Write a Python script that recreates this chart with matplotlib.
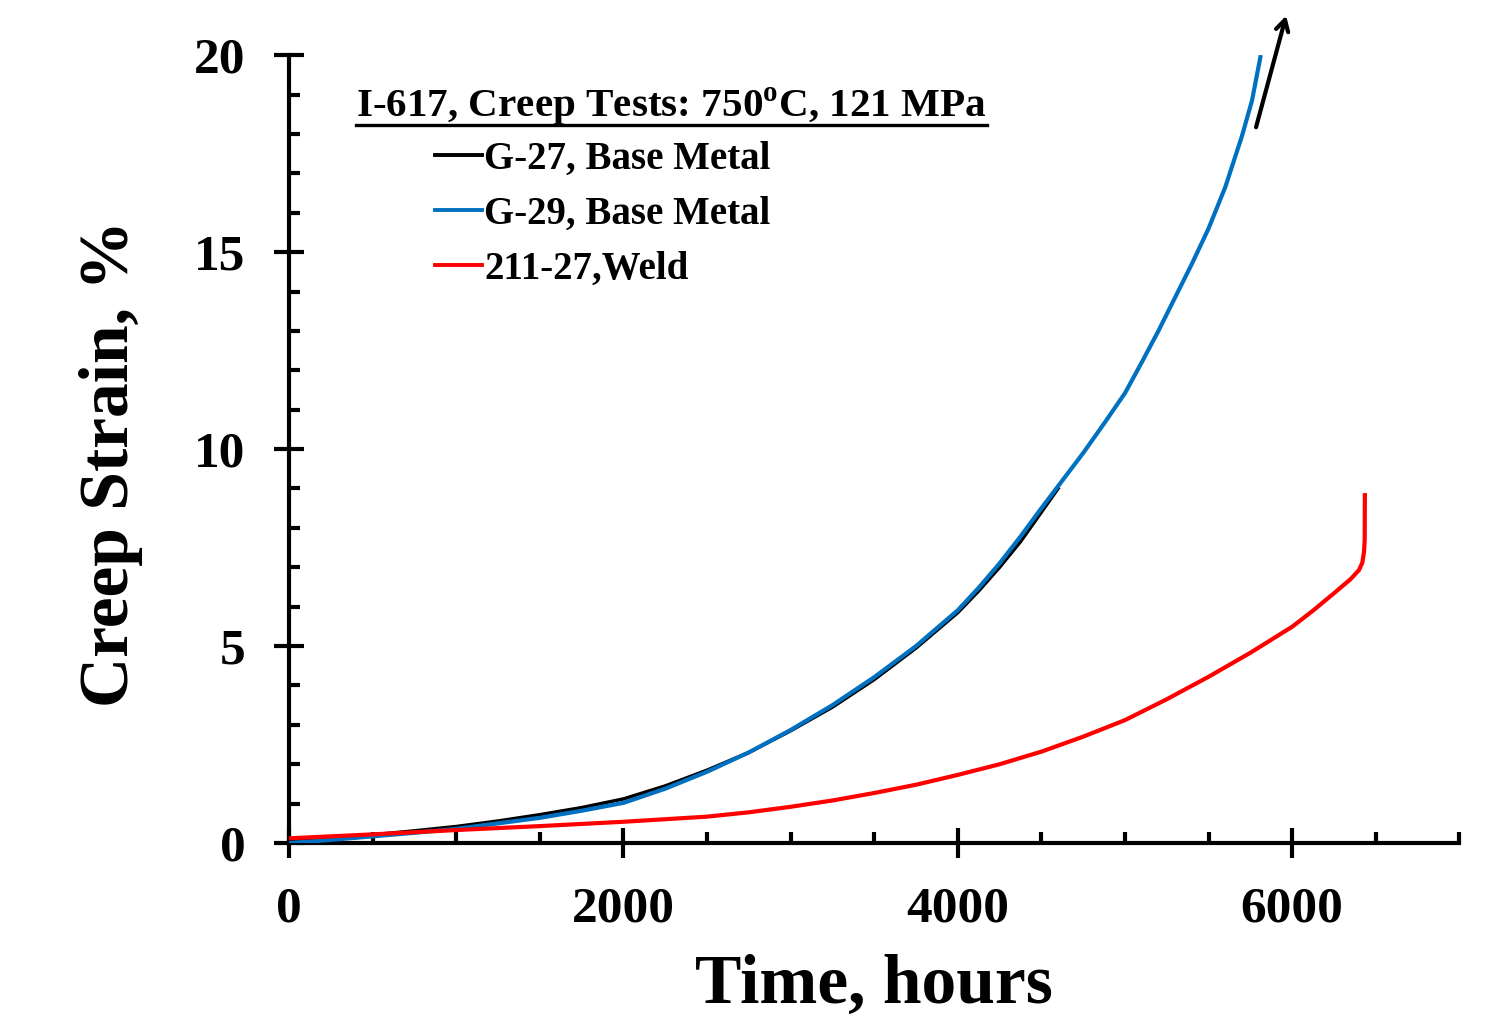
import matplotlib
matplotlib.use("Agg")
import matplotlib.pyplot as plt
from matplotlib.ticker import MultipleLocator
from matplotlib.lines import Line2D

plt.rcParams['font.family'] = ['Liberation Serif', 'DejaVu Serif']
plt.rcParams['font.weight'] = 'bold'
plt.rcParams['mathtext.fontset'] = 'custom'
plt.rcParams['mathtext.rm'] = 'Liberation Serif:bold'
plt.rcParams['mathtext.bf'] = 'Liberation Serif:bold'

# G-27, base metal
g27_hours = [0, 250, 500, 750, 1000, 1250, 1500, 1750, 2000, 2250, 2500, 2750,
             3000, 3250, 3500, 3750, 4000, 4125, 4250, 4375, 4500, 4600]
g27_strain = [0.05, 0.13, 0.21, 0.31, 0.42, 0.56, 0.72, 0.9, 1.12, 1.45, 1.85, 2.3,
              2.85, 3.45, 4.15, 4.95, 5.85, 6.4, 7.0, 7.65, 8.4, 9.0]

# G-29, base metal
g29_hours = [0, 250, 500, 750, 1000, 1250, 1500, 1750, 2000, 2250, 2500, 2750,
             3000, 3250, 3500, 3750, 4000, 4125, 4250, 4375, 4500, 4625, 4750,
             4875, 5000, 5100, 5200, 5300, 5400, 5500, 5600, 5700, 5760, 5810]
g29_strain = [0.0, 0.08, 0.17, 0.26, 0.36, 0.5, 0.64, 0.82, 1.02, 1.38, 1.81, 2.3,
              2.87, 3.5, 4.21, 5.0, 5.91, 6.48, 7.1, 7.78, 8.5, 9.2, 9.9,
              10.65, 11.42, 12.2, 13.0, 13.85, 14.7, 15.6, 16.65, 17.95, 18.85, 19.95]

# 211-27, weld
weld_hours = [0, 500, 1000, 1500, 2000, 2500, 2750, 3000, 3250, 3500, 3750, 4000,
              4250, 4500, 4750, 5000, 5250, 5500, 5750, 6000, 6125, 6250, 6350,
              6400, 6420, 6430, 6434, 6435]
weld_strain = [0.12, 0.22, 0.33, 0.43, 0.54, 0.67, 0.78, 0.92, 1.08, 1.27, 1.48, 1.73,
               2.0, 2.32, 2.7, 3.12, 3.65, 4.22, 4.83, 5.49, 5.9, 6.34, 6.7,
               6.93, 7.12, 7.4, 7.7, 8.83]

series_labels = ['G-27, Base Metal', 'G-29, Base Metal', '211-27,Weld']
series_colors = ['#000000', '#0070C0', '#FF0000']
chart_title = 'I-617, Creep Tests: 750$^{\\mathrm{o}}$C, 121 MPa'

# arrow pointing past the end of G-29 (off the top)
arrow_tail = (5784, 18.17)
arrow_head = (5964, 21.0)

fig = plt.figure(figsize=(15.06, 10.21), dpi=100)
ax = fig.add_axes([0.192, 0.1743, 0.777, 0.7717])

ax.plot(g27_hours, g27_strain, color=series_colors[0], lw=2.5, zorder=3)
ax.plot(g29_hours, g29_strain, color=series_colors[1], lw=3.0, zorder=4)
ax.plot(weld_hours, weld_strain, color=series_colors[2], lw=3.0, zorder=5)

ax.annotate('', xy=arrow_head, xytext=arrow_tail, annotation_clip=False,
            arrowprops=dict(arrowstyle='->,head_length=0.8,head_width=0.45',
                            lw=3, color='black', shrinkA=0, shrinkB=0))

ax.set_xlim(0, 7000)
ax.set_ylim(0, 20)
ax.xaxis.set_major_locator(MultipleLocator(2000))
ax.xaxis.set_minor_locator(MultipleLocator(500))
ax.yaxis.set_major_locator(MultipleLocator(5))
ax.yaxis.set_minor_locator(MultipleLocator(1))

for side in ['top', 'right']:
    ax.spines[side].set_visible(False)
for side in ['left', 'bottom']:
    ax.spines[side].set_linewidth(3)

ax.tick_params(which='major', direction='inout', length=21, width=3,
               labelsize=37)
ax.tick_params(which='minor', direction='in', length=8, width=3)
ax.tick_params(axis='y', which='major', pad=21)
ax.tick_params(axis='x', which='major', pad=21)

ax.set_xlabel('Time, hours', fontsize=50, fontweight='bold', labelpad=15)
ax.set_ylabel('Creep Strain, %', fontsize=50, fontweight='bold')
ax.yaxis.set_label_coords(-0.125, 0.482)

title = ax.text(0.057, 0.921, chart_title, transform=ax.transAxes,
                fontsize=29.6, fontweight='bold', va='baseline', ha='left')
fig.canvas.draw()
bb = title.get_window_extent().transformed(ax.transAxes.inverted())
ax.plot([bb.x0, bb.x1], [0.9115, 0.9115], transform=ax.transAxes,
        color='black', lw=2.4, clip_on=False)

handles = [Line2D([], [], color=c, lw=2.8) for c in series_colors]
ax.legend(handles, series_labels, loc='upper left', bbox_to_anchor=(0.125, 0.891),
          frameon=False, fontsize=28, handlelength=1.2, handletextpad=0.05,
          labelspacing=0.46, borderaxespad=0, borderpad=0)

fig.savefig('out.png', dpi=100)
